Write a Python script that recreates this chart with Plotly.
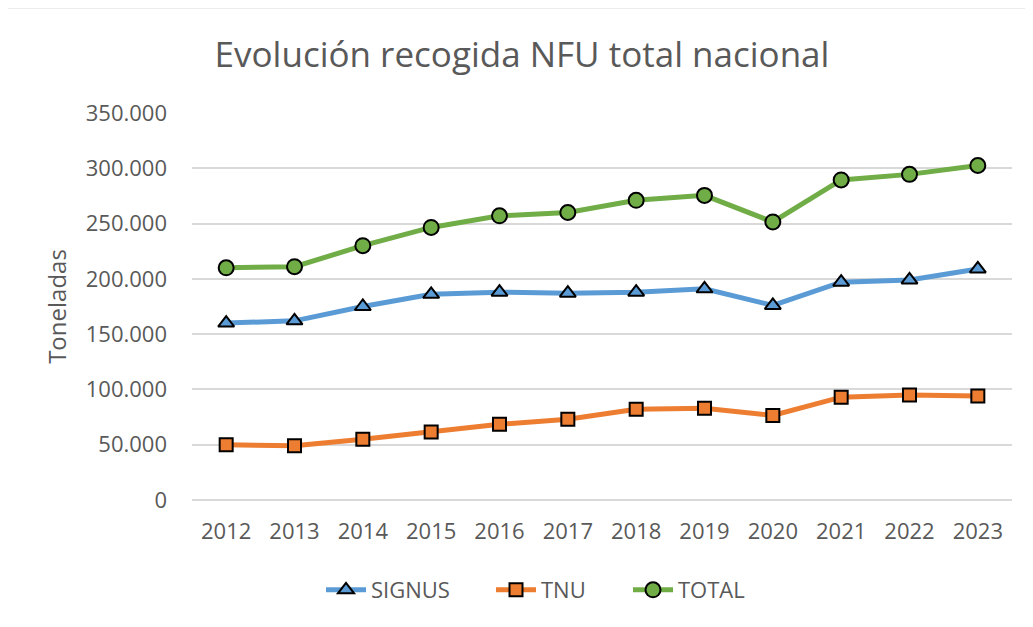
import plotly.graph_objects as go

years = ["2012", "2013", "2014", "2015", "2016", "2017", "2018", "2019", "2020", "2021", "2022", "2023"]
signus = [160000, 162000, 175000, 186000, 188000, 187000, 188000, 191000, 176000, 197000, 199000, 209000]
tnu = [50000, 49000, 55000, 61500, 68500, 73000, 82000, 83000, 76500, 93000, 95000, 94000]
total = [210000, 211000, 230000, 246500, 257000, 260000, 271000, 275500, 251500, 289500, 294500, 302500]

TXT = "#595959"
FONT = "Open Sans"

fig = go.Figure()
series = [
    ("SIGNUS", signus, "#5B9BD5", "triangle-up", 14, "legend", 313),
    ("TNU", tnu, "#ED7D31", "square", 13, "legend2", 483),
    ("TOTAL", total, "#70AD47", "circle", 15, "legend3", 620),
]
legends = {}
for name, vals, col, sym, sz, lg, lx in series:
    fig.add_trace(go.Scatter(
        x=years, y=vals, name=name, mode="lines+markers", legend=lg,
        line=dict(color=col, width=5),
        marker=dict(symbol=sym, size=sz, color=col, line=dict(color="#000000", width=2)),
    ))
    legends[lg] = dict(orientation="h", x=lx / 1033, xref="container", xanchor="left",
                       y=1 - 582 / 627, yref="container", yanchor="middle",
                       bgcolor="rgba(0,0,0,0)",
                       font=dict(family=FONT, size=22, color=TXT), itemwidth=40)

fig.update_layout(
    width=1033, height=627,
    margin=dict(l=184, r=29, t=105, b=135),
    paper_bgcolor="white", plot_bgcolor="white",
    separators=",.",
    font=dict(family=FONT, color=TXT, size=21),
    title=dict(text="Evolución recogida NFU total nacional", x=0.4976, xref="container",
               xanchor="center",
               y=1 - 47 / 627, yref="container", yanchor="middle",
               font=dict(family=FONT, size=35, color=TXT)),
    showlegend=True,
    **legends,
)
fig.update_xaxes(type="category", range=[-0.5, 11.5], showgrid=False, showline=False,
                 zeroline=False, ticks="", ticklabelstandoff=16,
                 tickfont=dict(size=22, color=TXT))
fig.update_yaxes(range=[0, 350000], dtick=50000, tickformat=",d", showgrid=True,
                 gridcolor="#D9D9D9", gridwidth=1.5, zeroline=True, zerolinecolor="#D9D9D9",
                 zerolinewidth=1.5, showline=False, ticks="", ticklabelstandoff=24,
                 tickfont=dict(size=22, color=TXT),
                 title=dict(text="Toneladas", font=dict(size=24, color=TXT), standoff=12))

# top edge of the chart frame visible in the reference crop
fig.add_shape(type="line", xref="paper", yref="paper", x0=(0 - 184) / 820, x1=(1033 - 184) / 820,
              y0=(492 + 0.5) / 387, y1=(492 + 0.5) / 387, line=dict(color="#D9D9D9", width=2))

fig.write_html("out.html")
